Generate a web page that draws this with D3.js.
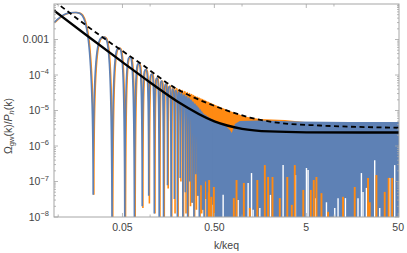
<!DOCTYPE html>
<html>
<head>
<meta charset="utf-8">
<script src="https://cdn.jsdelivr.net/npm/d3@7/dist/d3.min.js"></script>
<style>
  body { margin: 0; background: #fff; }
  text { font-family: "Liberation Sans", Arial, sans-serif; fill: #444; }
</style>
</head>
<body>
<div id="chart"></div>
<script>
// ---------------- data ----------------
// smooth curves
var solidK = [0.009, 0.02, 0.05, 0.1, 0.2, 0.5, 1, 2, 5, 20, 51];
var solidV = [6.5e-3, 1.36e-3, 2.3e-4, 6.15e-5, 1.77e-5, 4.96e-6, 3.06e-6, 2.57e-6, 2.43e-6, 2.4e-6, 2.4e-6];

var dashK = [0.009, 0.0292, 0.0774, 0.1768, 0.519, 1.215, 2.575, 7.01, 51];
var dashV = [1.22e-2, 1.24e-3, 2.18e-4, 4.7e-5, 1.30e-5, 6.35e-6, 4.45e-6, 3.78e-6, 3.27e-6];

// resolved oscillations: start point, then peak / dip pairs
var startK = 0.009, startBlueV = 2.97e-3, startOrangeV = 2.97e-3;
var peakK = [0.0155, 0.0312, 0.0457, 0.0602, 0.0747, 0.0892, 0.1037, 0.1182, 0.1327, 0.1472, 0.1617,
  0.1762, 0.1907, 0.2052, 0.2197, 0.2342, 0.2487, 0.2632, 0.2777, 0.2922, 0.3067, 0.3212,
  0.3357, 0.3502, 0.3647, 0.3792, 0.3937, 0.4082, 0.4227, 0.4372, 0.4517, 0.4662, 0.4807];
var bluePeakV = [5.77e-3, 1.17e-3, 5.77e-4, 3.21e-4, 2.11e-4, 1.43e-4, 1.07e-4, 8.23e-5, 6.77e-5, 5.57e-5, 4.74e-5,
  4.03e-5, 3.66e-5, 3.32e-5, 3.01e-5, 2.73e-5, 2.48e-5, 2.25e-5, 1.98e-5, 1.73e-5, 1.52e-5, 1.34e-5,
  1.17e-5, 1.03e-5, 9.07e-6, 7.96e-6, 7.46e-6, 7.0e-6, 6.56e-6, 6.15e-6, 5.77e-6, 5.58e-6, 5.40e-6];
var orangePeakV = [5.77e-3, 1.17e-3, 5.77e-4, 3.21e-4, 2.11e-4, 1.43e-4, 1.07e-4, 8.23e-5, 6.77e-5, 5.57e-5, 4.90e-5,
  4.45e-5, 4.17e-5, 3.91e-5, 3.66e-5, 3.43e-5, 3.21e-5, 3.01e-5, 2.82e-5, 2.65e-5, 2.49e-5, 2.36e-5,
  2.23e-5, 2.12e-5, 2.03e-5, 1.93e-5, 1.84e-5, 1.76e-5, 1.69e-5, 1.61e-5, 1.56e-5, 1.50e-5, 1.45e-5];
var dipK = [0.0240, 0.0385, 0.0530, 0.0675, 0.0820, 0.0965, 0.1110, 0.1255, 0.1400, 0.1545, 0.1690,
  0.1835, 0.1980, 0.2125, 0.2270, 0.2415, 0.2560, 0.2705, 0.2850, 0.2995, 0.3140, 0.3285,
  0.3430, 0.3575, 0.3720, 0.3865, 0.4010, 0.4155, 0.4300, 0.4445, 0.4590, 0.4735, 0.4880];
var blueDipV = [4.2e-8, 1e-9, 1e-9, 1e-9, 2.0e-8, 4.0e-8, 1.26e-8, 1e-9, 1e-9, 7.9e-8, 1e-9,
  3.2e-8, 1e-9, 1.26e-7, 5e-9, 5e-8, 1e-9, 1e-7, 2.5e-8, 1e-9, 1.6e-7, 4e-8,
  1e-9, 7.9e-8, 1.6e-8, 1e-9, 1e-7, 3e-9, 5e-8, 1e-9, 3.2e-8, 6e-9, 1e-9];
var orangeDipV = [4.2e-8, 1e-9, 1e-9, 1e-9, 1.8e-8, 2.4e-8, 1.26e-8, 1e-9, 1e-9, 6.3e-8, 1e-9,
  1.26e-8, 1e-9, 1e-7, 5e-9, 1.26e-8, 1e-9, 2e-8, 2.5e-8, 1e-9, 1.6e-8, 4e-8,
  1e-9, 1.26e-8, 1.6e-8, 1e-9, 3.2e-8, 3e-9, 1e-9, 1e-9, 2e-8, 6e-9, 1e-9];

// unresolved (dense) part: upper envelopes
var denseBlueK = [0.4815, 0.650, 0.737, 0.774, 0.835, 0.946, 1.561, 4.25, 14.85, 51];
var denseBlueV = [5.40e-6, 3.91e-6, 2.82e-6, 2.32e-6, 4.17e-6, 5.06e-6, 5.22e-6, 4.90e-6, 4.74e-6, 4.74e-6];
var denseOrangeK = [0.4815, 0.737, 1.072, 1.561, 2.918, 5.45, 51];
var denseOrangeV = [1.52e-5, 9.68e-6, 6.78e-6, 5.77e-6, 5.40e-6, 4.59e-6, 4.45e-6];

// dense part: places where the blue band does not reach the floor
var gapK = [0.4851, 0.6227, 0.9067, 1.165, 1.268, 1.320, 1.561, 2.040, 2.797, 3.814, 5.022, 5.228,
  6.339, 8.285, 10.20, 11.08, 13.33, 18.27, 19.89, 20.71, 22.55, 27.75, 31.46, 40.40, 45.79];
var gapV = [2.2e-8, 4.2e-8, 3.0e-8, 9.1e-8, 1.73e-7, 1.6e-8, 1.8e-8, 4.2e-8, 2.9e-7, 1.52e-7, 2.4e-7, 2.1e-7,
  3.4e-8, 2.6e-8, 1.8e-8, 3.4e-8, 3.4e-8, 3.4e-8, 1.73e-7, 5.1e-8, 6.6e-8, 4.0e-7, 1.8e-8, 1.26e-7, 2.9e-7];
// dense part: orange spikes showing through below the blue
var spikeK = [0.4387, 0.4636, 0.4935, 0.8139, 0.8711, 1.046, 1.215, 1.466, 1.769, 1.921, 2.145, 2.575, 3.106,
  3.477, 3.748, 4.637, 5.593, 6.030, 6.449, 7.311, 8.624, 12.56, 16.82, 23.48, 24.49, 28.96, 35.65, 39.39, 43.00];
var spikeV = [1.1e-7, 3.7e-8, 7.0e-8, 3.4e-8, 1.1e-7, 9.1e-8, 1.8e-8, 1.1e-7, 2.9e-7, 1.34e-7, 1.34e-7, 3.4e-8, 1.34e-7,
  2.2e-8, 2.9e-7, 5.8e-8, 5.8e-8, 1.1e-7, 1.34e-7, 4.7e-8, 1.4e-8, 3.7e-8, 7.0e-8, 1.26e-7, 2.6e-8, 1.52e-7, 5.1e-8, 1.26e-7, 1.26e-7];

// ticks
var xTickVals = [0.05, 0.5, 5, 50];
var xTickLabels = ["0.05", "0.50", "5", "50"];
var xSmallTicks = [0.01, 0.1, 1, 10];
var yTickVals = [1e-3, 1e-4, 1e-5, 1e-6, 1e-7, 1e-8];
var yTickBase = ["0.001", "10", "10", "10", "10", "10"];
var yTickExp = ["", "\u22124", "\u22125", "\u22126", "\u22127", "\u22128"];

// ---------------- layout ----------------
var svgWidth = 407, svgHeight = 253;
var plot = { left: 54, right: 399, top: 4, bottom: 217 };
var blue = "#5e81b5", orange = "#ff8a12";

var svg = d3.select("#chart").append("svg")
  .attr("width", svgWidth)
  .attr("height", svgHeight);

var x = d3.scaleLog().domain([0.009, 51]).range([plot.left, plot.right]);
var y = d3.scaleLog().domain([1e-8, 1e-2]).range([plot.bottom, plot.top]);

svg.append("clipPath").attr("id", "clip")
  .append("rect")
  .attr("x", plot.left).attr("y", plot.top)
  .attr("width", plot.right - plot.left).attr("height", plot.bottom - plot.top);

var g = svg.append("g").attr("clip-path", "url(#clip)");

// rounded lobes with sharp dips, one after the other
function lobePath(k0, v0, pk, pv, dk, dv) {
  var p = d3.path();
  var x0 = x(k0), y0 = y(v0);
  p.moveTo(x0, y0);
  for (var i = 0; i < pk.length; i++) {
    var xp = x(pk[i]), yp = y(pv[i]);
    var xd = x(dk[i]), yd = y(dv[i]);
    if (i === 0) {
      // the curve enters the frame on a rising slope, not from a dip
      p.bezierCurveTo(x0 + 0.45 * (xp - x0), yp, x0 + 0.7 * (xp - x0), yp, xp, yp);
    } else {
      p.bezierCurveTo(x0, yp, x0 + 0.5 * (xp - x0), yp, xp, yp);
    }
    p.bezierCurveTo(xp + 0.5 * (xd - xp), yp, xd, yp, xd, yd);
    x0 = xd; y0 = yd;
  }
  return p.toString();
}

var band = d3.area()
  .x(d => x(d[0]))
  .y0(plot.bottom + 2)
  .y1(d => y(d[1]));

// orange series (underneath)
g.append("path")
  .attr("d", lobePath(startK, startOrangeV, peakK, orangePeakV, dipK, orangeDipV))
  .attr("transform", "translate(0.7,0)")
  .attr("fill", "none")
  .attr("stroke", orange)
  .attr("stroke-width", 1.6);

g.append("path")
  .attr("d", band(d3.zip(denseOrangeK, denseOrangeV)))
  .attr("fill", orange);

// blue series (on top)
g.append("path")
  .attr("d", lobePath(startK, startBlueV, peakK, bluePeakV, dipK, blueDipV))
  .attr("fill", "none")
  .attr("stroke", blue)
  .attr("stroke-width", 1.6);

g.append("path")
  .attr("d", band(d3.zip(denseBlueK, denseBlueV)))
  .attr("fill", blue);

g.selectAll(".gap")
  .data(d3.zip(gapK, gapV))
  .enter()
  .append("line")
  .attr("class", "gap")
  .attr("x1", d => x(d[0])).attr("x2", d => x(d[0]))
  .attr("y1", plot.bottom).attr("y2", d => y(d[1]))
  .attr("stroke", "#fff")
  .attr("stroke-width", 1.4);

g.selectAll(".spike")
  .data(d3.zip(spikeK, spikeV))
  .enter()
  .append("line")
  .attr("class", "spike")
  .attr("x1", d => x(d[0])).attr("x2", d => x(d[0]))
  .attr("y1", plot.bottom).attr("y2", d => y(d[1]))
  .attr("stroke", orange)
  .attr("stroke-width", 1.9);

// black reference curves
var line = d3.line()
  .x(d => x(d[0]))
  .y(d => y(d[1]))
  .curve(d3.curveMonotoneX);

g.append("path")
  .attr("d", line(d3.zip(solidK, solidV)))
  .attr("fill", "none")
  .attr("stroke", "#000")
  .attr("stroke-width", 2.3);

g.append("path")
  .attr("d", line(d3.zip(dashK, dashV)))
  .attr("fill", "none")
  .attr("stroke", "#000")
  .attr("stroke-width", 1.8)
  .attr("stroke-dasharray", "5,3.5");

// ---------------- frame and ticks ----------------
var frameColor = "#a6a6a6";
svg.append("rect")
  .attr("x", plot.left).attr("y", plot.top)
  .attr("width", plot.right - plot.left).attr("height", plot.bottom - plot.top)
  .attr("fill", "none")
  .attr("stroke", frameColor)
  .attr("stroke-width", 1);

var ticks = svg.append("g").attr("stroke", frameColor).attr("stroke-width", 0.8);

// y ticks (left and right), minor ticks at 2..9 per decade
var yMinor = [];
d3.range(-8, -2).forEach(function(e) {
  d3.range(2, 10).forEach(function(m) { yMinor.push(m * Math.pow(10, e)); });
});
function yTick(v, len) {
  ticks.append("line").attr("x1", plot.left).attr("x2", plot.left + len).attr("y1", y(v)).attr("y2", y(v));
  ticks.append("line").attr("x1", plot.right).attr("x2", plot.right - len).attr("y1", y(v)).attr("y2", y(v));
}
yTickVals.forEach(v => yTick(v, 4));
yMinor.forEach(v => yTick(v, 2));

function xTick(v, len) {
  ticks.append("line").attr("x1", x(v)).attr("x2", x(v)).attr("y1", plot.bottom).attr("y2", plot.bottom - len);
  ticks.append("line").attr("x1", x(v)).attr("x2", x(v)).attr("y1", plot.top).attr("y2", plot.top + len);
}
xTickVals.forEach(v => xTick(v, 4));
xSmallTicks.forEach(v => xTick(v, 2.5));

// tick labels
svg.selectAll(".xlab")
  .data(xTickVals)
  .enter()
  .append("text")
  .attr("class", "xlab")
  .attr("x", d => x(d))
  .attr("y", 230.5)
  .attr("text-anchor", "middle")
  .style("font-size", "10.5px")
  .text((d, i) => xTickLabels[i]);

yTickVals.forEach(function(v, i) {
  var t = svg.append("text")
    .attr("x", 49)
    .attr("y", y(v) + 3.8)
    .attr("text-anchor", "end")
    .style("font-size", "10.5px");
  t.append("tspan").text(yTickBase[i]);
  if (yTickExp[i]) {
    t.append("tspan")
      .attr("dy", -4.5)
      .style("font-size", "7.5px")
      .text(yTickExp[i]);
  }
});

// axis titles
svg.append("text")
  .attr("x", (plot.left + plot.right) / 2)
  .attr("y", 249)
  .attr("text-anchor", "middle")
  .style("font-size", "10.5px")
  .text("k/keq");

var yt = svg.append("text")
  .attr("transform", "translate(11.5,126) rotate(-90)")
  .attr("text-anchor", "middle")
  .style("font-size", "10.5px");
yt.append("tspan").text("\u03A9");
yt.append("tspan").attr("dy", 2.5).style("font-size", "7.5px").text("gw");
yt.append("tspan").attr("dy", -2.5).text("(k)/");
yt.append("tspan").style("font-style", "italic").text("P");
yt.append("tspan").attr("dy", 2.5).style("font-size", "7.5px").style("font-style", "italic").text("h");
yt.append("tspan").attr("dy", -2.5).text("(k)");
</script>
</body>
</html>
